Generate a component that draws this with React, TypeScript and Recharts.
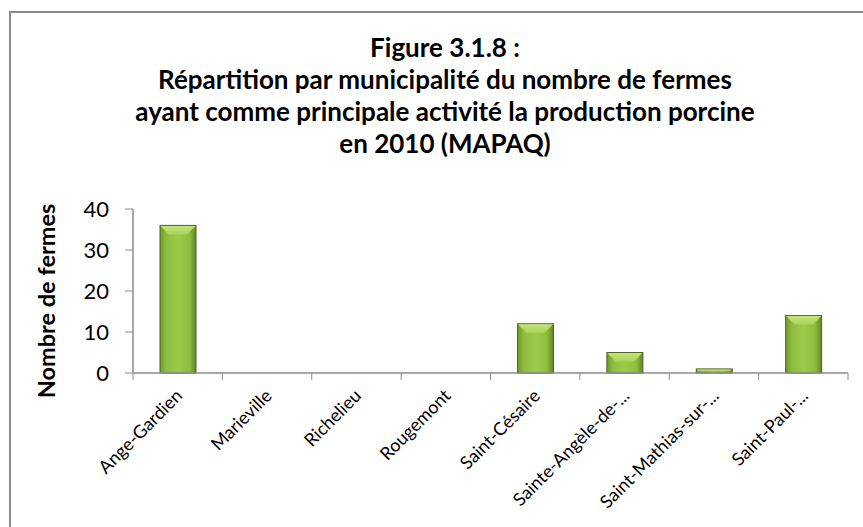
import React from 'react';
import { BarChart, Bar, XAxis, YAxis } from 'recharts';

const municipalities = [
  'Ange-Gardien',
  'Marieville',
  'Richelieu',
  'Rougemont',
  'Saint-Césaire',
  'Sainte-Angèle-de-...',
  'Saint-Mathias-sur-...',
  'Saint-Paul-...',
];
const farmCounts = [36, 0, 0, 0, 12, 5, 1, 14];
const yTicks = [0, 10, 20, 30, 40];
const titleLines = [
  'Figure 3.1.8 :',
  'Répartition par municipalité du nombre de fermes',
  'ayant comme principale activité la production porcine',
  'en 2010 (MAPAQ)',
];

const data = municipalities.map((name, i) => ({ name, fermes: farmCounts[i] }));

// layout
const W = 863;
const H = 527;
const MARGIN = { top: 209, right: 15, left: 73, bottom: 14 };
const Y_AXIS_W = 60;
const X_AXIS_H = 140;
const AXIS_Y = H - MARGIN.bottom - X_AXIS_H;
const PLOT_W = W - MARGIN.left - Y_AXIS_W - MARGIN.right;
const HALF_BAND = PLOT_W / municipalities.length / 2;
const AXIS_COLOR = '#8c8c8c';

// bar with a bevel like the Excel preset
const BevelBar = (props: any) => {
  const { x, y, width, height } = props;
  if (!height || height <= 0) return <g />;
  const b = Math.min(9, height / 2, width / 4);
  return (
    <g>
      <rect x={x} y={y} width={width} height={height} fill="url(#barBody)" stroke="#4f6228" strokeWidth={1} />
      <polygon
        points={`${x + 0.5},${y + 0.5} ${x + width - 0.5},${y + 0.5} ${x + width - b},${y + b} ${x + b},${y + b}`}
        fill="url(#barTop)"
      />
    </g>
  );
};

const CategoryTick = (props: any) => {
  const { x, payload, index } = props;
  const last = index === municipalities.length - 1;
  const tx = x + 6;
  const ty = AXIS_Y + 24;
  return (
    <g>
      <line x1={x - HALF_BAND} y1={AXIS_Y} x2={x - HALF_BAND} y2={AXIS_Y + 7} stroke={AXIS_COLOR} />
      {last && <line x1={x + HALF_BAND} y1={AXIS_Y} x2={x + HALF_BAND} y2={AXIS_Y + 7} stroke={AXIS_COLOR} />}
      <text
        x={tx}
        y={ty}
        transform={`rotate(-45, ${tx}, ${ty})`}
        textAnchor="end"
        fontSize={18}
        fill="#000"
        fontFamily="Lato"
      >
        {payload.value}
      </text>
    </g>
  );
};

export default function App() {
  return (
    <div
      style={{
        position: 'fixed', left: 0, top: 0, width: W, height: H, overflow: 'hidden',
        background: '#fff', fontFamily: 'Lato, sans-serif',
      }}
    >
      {/* chart frame, cut off at right and bottom */}
      <div style={{ position: 'absolute', left: 9, top: 11, width: 1000, height: 1000, border: `2px solid #8a8a8a` }} />

      <div
        style={{
          position: 'absolute', left: 0, top: 31, width: 890, textAlign: 'center',
          fontSize: 26, fontWeight: 700, lineHeight: '32px', color: '#000',
        }}
      >
        {titleLines.map((l) => (
          <div key={l}>{l}</div>
        ))}
      </div>

      <div
        style={{
          position: 'absolute', left: 46, top: 301, transform: 'translate(-50%, -50%) rotate(-90deg)',
          whiteSpace: 'nowrap', fontSize: 23.5, fontWeight: 700, color: '#000',
        }}
      >
        Nombre de fermes
      </div>

      <div style={{ position: 'absolute', left: 0, top: 0 }}>
        <BarChart width={W} height={H} data={data} margin={MARGIN} barSize={36}>
          <defs>
            <linearGradient id="barBody" x1="0" y1="0" x2="1" y2="0">
              <stop offset="0%" stopColor="#6f9a2c" />
              <stop offset="18%" stopColor="#8fbd3f" />
              <stop offset="50%" stopColor="#9ccb4a" />
              <stop offset="82%" stopColor="#8fbd3f" />
              <stop offset="100%" stopColor="#5f8524" />
            </linearGradient>
            <linearGradient id="barTop" x1="0" y1="0" x2="0" y2="1">
              <stop offset="0%" stopColor="#c4e47a" />
              <stop offset="100%" stopColor="#a8d457" />
            </linearGradient>
          </defs>
          <XAxis
            dataKey="name"
            interval={0}
            height={X_AXIS_H}
            tickLine={false}
            axisLine={{ stroke: AXIS_COLOR, strokeWidth: 1.5 }}
            tick={<CategoryTick />}
          />
          <YAxis
            width={Y_AXIS_W}
            domain={[0, 40]}
            ticks={yTicks}
            interval={0}
            tickSize={8}
            tickMargin={16}
            axisLine={{ stroke: AXIS_COLOR, strokeWidth: 1.5 }}
            tickLine={{ stroke: AXIS_COLOR }}
            tick={{ fontSize: 22, fill: '#000', fontFamily: 'Lato' }}
          />
          <Bar dataKey="fermes" shape={<BevelBar />} isAnimationActive={false} />
        </BarChart>
      </div>
    </div>
  );
}
